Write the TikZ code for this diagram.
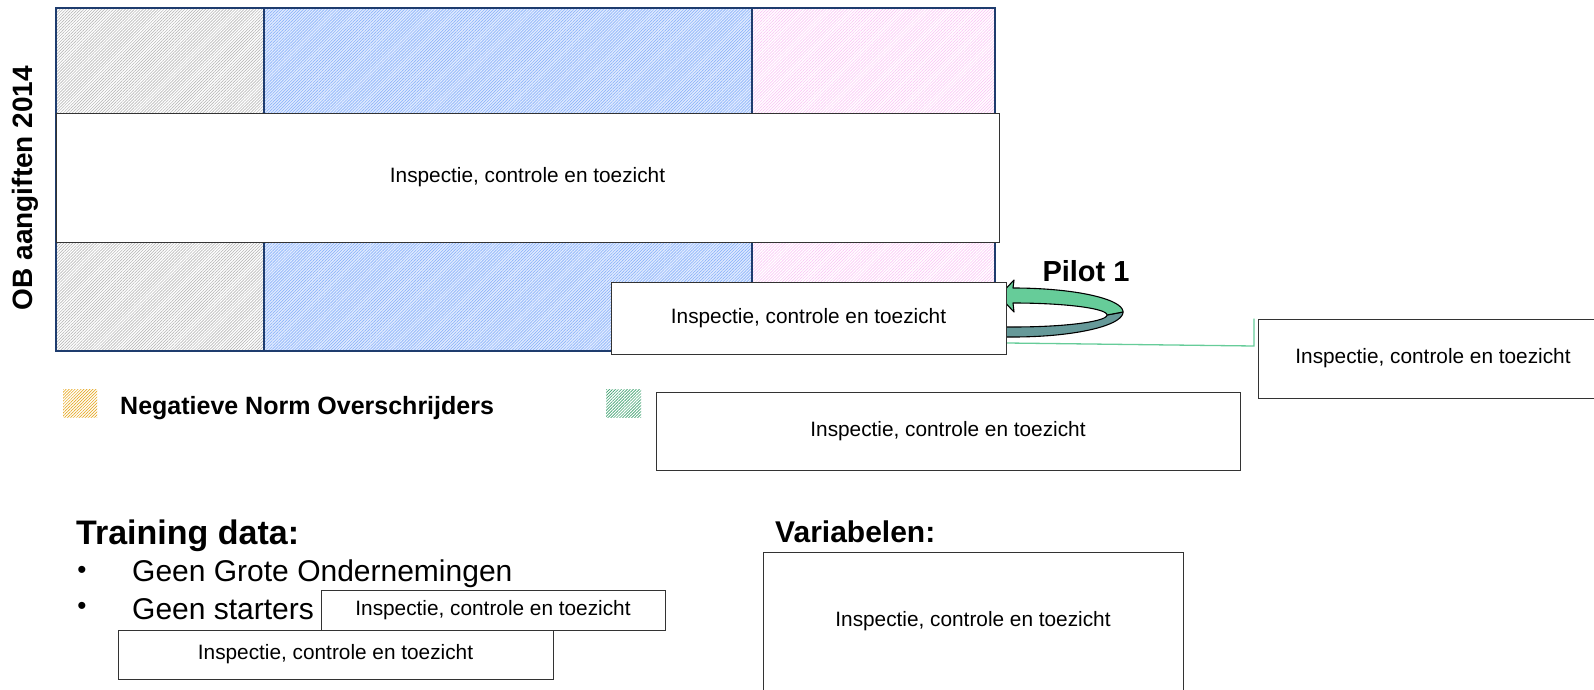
\documentclass[tikz,border=0pt]{standalone}
\usepackage{fontspec}
\setmainfont{Liberation Sans}
\usetikzlibrary{patterns.meta}
\definecolor{navy}{RGB}{30,60,110}
\definecolor{hgray}{RGB}{185,185,185}
\definecolor{hblue}{RGB}{140,180,250}
\definecolor{bblue}{RGB}{225,235,255}
\definecolor{hpink}{RGB}{250,200,245}
\definecolor{horange}{RGB}{230,170,40}
\definecolor{hgreen}{RGB}{60,160,110}
\definecolor{mint}{RGB}{102,204,153}
\definecolor{teal2}{RGB}{102,153,153}
\tikzset{
  hatch/.style={pattern={Lines[angle=45,distance=2.1pt,line width=0.65pt]},pattern color=#1},
  box/.style={draw=black!80,fill=white,line width=0.9pt,inner sep=0pt,font=\fontsize{20.8}{23}\selectfont},
  lbl/.style={inner sep=0pt,anchor=west},
  bigbold/.style={font=\bfseries\fontsize{#1}{#1}\selectfont},
  ribbon/.style={draw=black,line width=1.1pt,line join=round},
  conn/.style={draw=mint,line width=1.3pt},
  bul/.style={inner sep=0pt,font=\fontsize{26}{26}\selectfont}
}
\begin{document}
\begin{tikzpicture}[x=1pt,y=-1pt]
\useasboundingbox (0,0) rectangle (1594,690);
% hatched columns
\fill[hatch=hgray] (56,8) rectangle (264,351);
\fill[bblue] (264,8) rectangle (752,351);
\fill[hatch=hblue] (264,8) rectangle (752,351);
\fill[hatch=hpink] (752,8) rectangle (995,351);
\draw[navy,line width=1.6pt] (56,8) rectangle (995,351);
\draw[navy,line width=1.6pt] (264,8) -- (264,351);
\draw[navy,line width=1.6pt] (752,8) -- (752,351);
% wide box
\node[box,minimum width=943pt,minimum height=129pt] (wide) at (527.5,177.5) {Inspectie, controle en toezicht};
% axis label
\node[bigbold=28,rotate=90,inner sep=0pt] (ylab) at (25,188) {OB aangiften 2014};
% pilot ring arrow
\fill[ribbon,fill=teal2]
  plot[domain=0:90,samples=30,variable=\t] ({1013+110*cos(\t)},{312+25*sin(\t)})
  -- (1000,337) -- (1000,327) -- (1013,327)
  -- plot[domain=90:0,samples=30,variable=\t] ({1013+94*cos(\t)},{315+12*sin(\t)}) -- cycle;
\fill[ribbon,fill=mint]
  plot[domain=-90:0,samples=30,variable=\t] ({1013+110*cos(\t)},{312+24*sin(\t)})
  -- plot[domain=0:-90,samples=30,variable=\t] ({1013+94*cos(\t)},{315+12*sin(\t)})
  -- (1014,312) -- (999,296) -- (1014,280) -- cycle;
\node[bigbold=29,inner sep=0pt] (pilotlbl) at (1086,271) {Pilot 1};
% pilot box
\node[box,minimum width=395pt,minimum height=72pt] (pilot) at (808.5,318) {Inspectie, controle en toezicht};
% right box
\node[box,minimum width=350pt,minimum height=79pt] (right) at (1433,358.5) {Inspectie, controle en toezicht};
\coordinate (cstart) at (1007,343);
\coordinate (cbend) at (1254,346);
\draw[conn] (cstart) -- (cbend) -- (cbend |- right.north west);
% legend
\fill[hatch=horange] (63,389) rectangle (97,417);
\node[lbl,bigbold=25] (neg) at (120,408) {Negatieve Norm Overschrijders};
\fill[hatch=hgreen] (606,389) rectangle (641,417);
\node[box,minimum width=584pt,minimum height=78pt] (legbox) at (948,431) {Inspectie, controle en toezicht};
% training data
\node[lbl,bigbold=34] (train) at (76,536) {Training data:};
\node[bul] (b1) at (82,572) {\textbullet};
\node[lbl,font=\fontsize{30}{30}\selectfont] (t1) at (132,574) {Geen Grote Ondernemingen};
\node[bul] (b2) at (82,608) {\textbullet};
\node[lbl,font=\fontsize{30}{30}\selectfont] (t2) at (132,609) {Geen starters};
\node[box,minimum width=344pt,minimum height=40pt] (small) at (493,610) {Inspectie, controle en toezicht};
\node[box,minimum width=435pt,minimum height=49pt] (bottom) at (335.5,654.5) {Inspectie, controle en toezicht};
% variabelen
\node[lbl,bigbold=30] (var) at (775,532) {Variabelen:};
\node[box,minimum width=420pt,minimum height=138pt] (varbox) at (973,621) {Inspectie, controle en toezicht};
\end{tikzpicture}
\end{document}
